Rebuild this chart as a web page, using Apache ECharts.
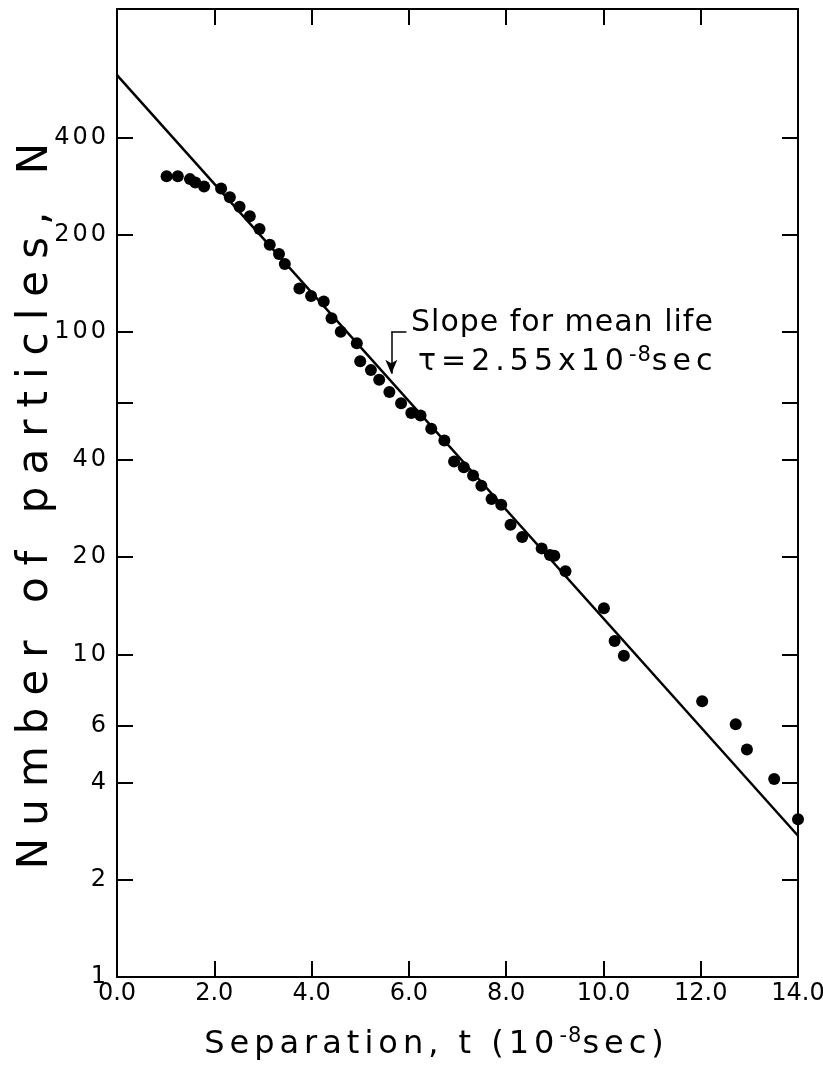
<!DOCTYPE html>
<html><head><meta charset="utf-8">
<script src="https://cdn.jsdelivr.net/npm/echarts@6/dist/echarts.min.js"></script>
<style>html,body{margin:0;padding:0;background:#fff}#c{width:823px;height:1070px}</style>
</head><body><div id="c"></div>
<script>
// Separation time t (10^-8 sec) of each measured point
const timeValues = [1.02,1.25,1.50,1.61,1.79,2.14,2.32,2.52,2.73,2.93,3.14,3.33,3.45,3.75,3.99,4.25,4.41,4.60,4.93,5.00,
  5.22,5.39,5.60,5.84,6.05,6.24,6.46,6.73,6.93,7.13,7.32,7.49,7.70,7.90,8.09,8.33,8.73,8.90,8.99,9.22,
  10.01,10.23,10.42,12.03,12.72,12.95,13.51,14.0];
// Number of particles N at each point
const countValues = [303,303,297,290,282,278,261,244,228,208,186,174,162,136,129,124,110,100,92,81,
  76,71,65,60,56,55,50,46,39.6,38,35.8,33.3,30.3,29.1,25.2,23.1,21.3,20.3,20.2,18.1,
  13.9,11.0,9.9,7.15,6.07,5.07,4.11,3.08];
// Fitted exponential (mean life 2.55e-8 s) end points
const fitT = [0, 14];
const fitN = [624, 2.74];
// Axis ticks
const xTickValues = [0,2,4,6,8,10,12,14];
const xTickLabels = ['0.0','2.0','4.0','6.0','8.0','10.0','12.0','14.0'];
const yTickValues = [1,2,4,6,10,20,40,60,100,200,400];
const yLabelValues = [1,2,4,6,10,20,40,100,200,400];
// Annotation arrow (data coords)
const arrowT = [5.64, 5.95];
const arrowN = [100, 74];

// Letter spacing for canvas text: a font family token "lsN" sets N px spacing
(function(){
  const proto = CanvasRenderingContext2D.prototype;
  const d = Object.getOwnPropertyDescriptor(proto, 'font');
  if (!d || !('letterSpacing' in proto)) return;
  Object.defineProperty(proto, 'font', {
    configurable:true, enumerable:d.enumerable,
    get(){ return d.get.call(this); },
    set(v){ d.set.call(this, v); const m = /ls(\d+)/.exec(v); this.letterSpacing = m ? m[1] + 'px' : '0px'; }
  });
})();
const ff = ls => 'DejaVu Sans, ls' + ls;

const chart = echarts.init(document.getElementById('c'), null, {renderer:'canvas'});

const points = timeValues.map((t,i)=>[t,countValues[i]]);
const fitLine = fitT.map((t,i)=>[t,fitN[i]]);

const axisLineStyle = {color:'#000', width:2};
const tickStyle = {color:'#000', width:2};
const xLabelMap = {};
xTickValues.forEach((v,i)=>{xLabelMap[v]=xTickLabels[i];});

chart.setOption({
  animation:false,
  backgroundColor:'#fff',
  grid:{left:117, right:25, top:9, bottom:93, containLabel:false, outerBoundsMode:'none'},
  xAxis:[{
    type:'value', min:0, max:14, interval:2, position:'bottom',
    axisLine:{show:true, onZero:false, lineStyle:axisLineStyle},
    axisTick:{show:true, inside:true, length:16, lineStyle:tickStyle},
    axisLabel:{color:'#000', fontFamily:ff(0), fontSize:24, margin:5, formatter:v=>xLabelMap[v] ?? v.toFixed(1)},
    splitLine:{show:false},
    name:'Separation, t (10{sup|-8}sec)', nameLocation:'middle', nameGap:49, nameMoveOverlap:false,
    nameTextStyle:{color:'#000', fontFamily:ff(5), fontSize:32, padding:[0,42,0,0],
      rich:{sup:{fontFamily:ff(1), fontSize:21, color:'#000', verticalAlign:'top'}}}
  },{
    type:'value', min:0, max:14, interval:2, position:'top',
    axisLine:{show:true, onZero:false, lineStyle:axisLineStyle},
    axisTick:{show:true, inside:true, length:16, lineStyle:tickStyle},
    axisLabel:{show:false}, splitLine:{show:false}
  }],
  yAxis:[{
    type:'log', logBase:10, min:1, max:1000, position:'left',
    axisLine:{show:true, onZero:false, lineStyle:axisLineStyle},
    axisTick:{show:true, inside:true, length:16, lineStyle:tickStyle, customValues:yTickValues},
    axisLabel:{color:'#000', fontFamily:ff(3), fontSize:24, margin:8, customValues:yLabelValues, formatter:v=>String(Math.round(v))},
    splitLine:{show:false}, minorTick:{show:false},
    name:'Number of particles, N', nameLocation:'middle', nameGap:54, nameRotate:90, nameMoveOverlap:false,
    nameTextStyle:{color:'#000', fontFamily:ff(12), fontSize:42, padding:[0,14,0,0]}
  },{
    type:'log', logBase:10, min:1, max:1000, position:'right',
    axisLine:{show:true, onZero:false, lineStyle:axisLineStyle},
    axisTick:{show:true, inside:true, length:16, lineStyle:tickStyle, customValues:yTickValues},
    axisLabel:{show:false}, splitLine:{show:false}
  }],
  series:[{
    type:'line', data:fitLine, xAxisIndex:0, yAxisIndex:0, symbol:'none',
    lineStyle:{color:'#000', width:2.5}, silent:true, z:2,
    markLine:{
      silent:true, animation:false, label:{show:false},
      lineStyle:{color:'#000', width:1.5, type:'solid'},
      symbolSize:[9,14],
      data:[
        [{coord:[arrowT[0],arrowN[0]], symbol:'none'},{coord:[arrowT[0],arrowN[1]], symbol:'arrow'}],
        [{coord:[arrowT[0],arrowN[0]], symbol:'none'},{coord:[arrowT[1],arrowN[0]], symbol:'none'}]
      ]
    }
  },{
    type:'scatter', data:points, xAxisIndex:0, yAxisIndex:0, symbol:'circle', symbolSize:12,
    itemStyle:{color:'#000', opacity:1}, silent:true, z:3
  }],
  graphic:[
    {type:'text', x:411, y:323, silent:true, style:{text:'Slope for mean life', fontFamily:ff(1), fontSize:30, fill:'#000', verticalAlign:'middle', align:'left'}},
    {type:'text', x:418, y:362, silent:true, style:{text:'τ=2.55x10{sup|-8}sec', fontFamily:ff(5), fontSize:30, fill:'#000', verticalAlign:'middle', align:'left',
      rich:{sup:{fontFamily:ff(1), fontSize:21, fill:'#000', verticalAlign:'top'}}}}
  ]
});
</script></body></html>
